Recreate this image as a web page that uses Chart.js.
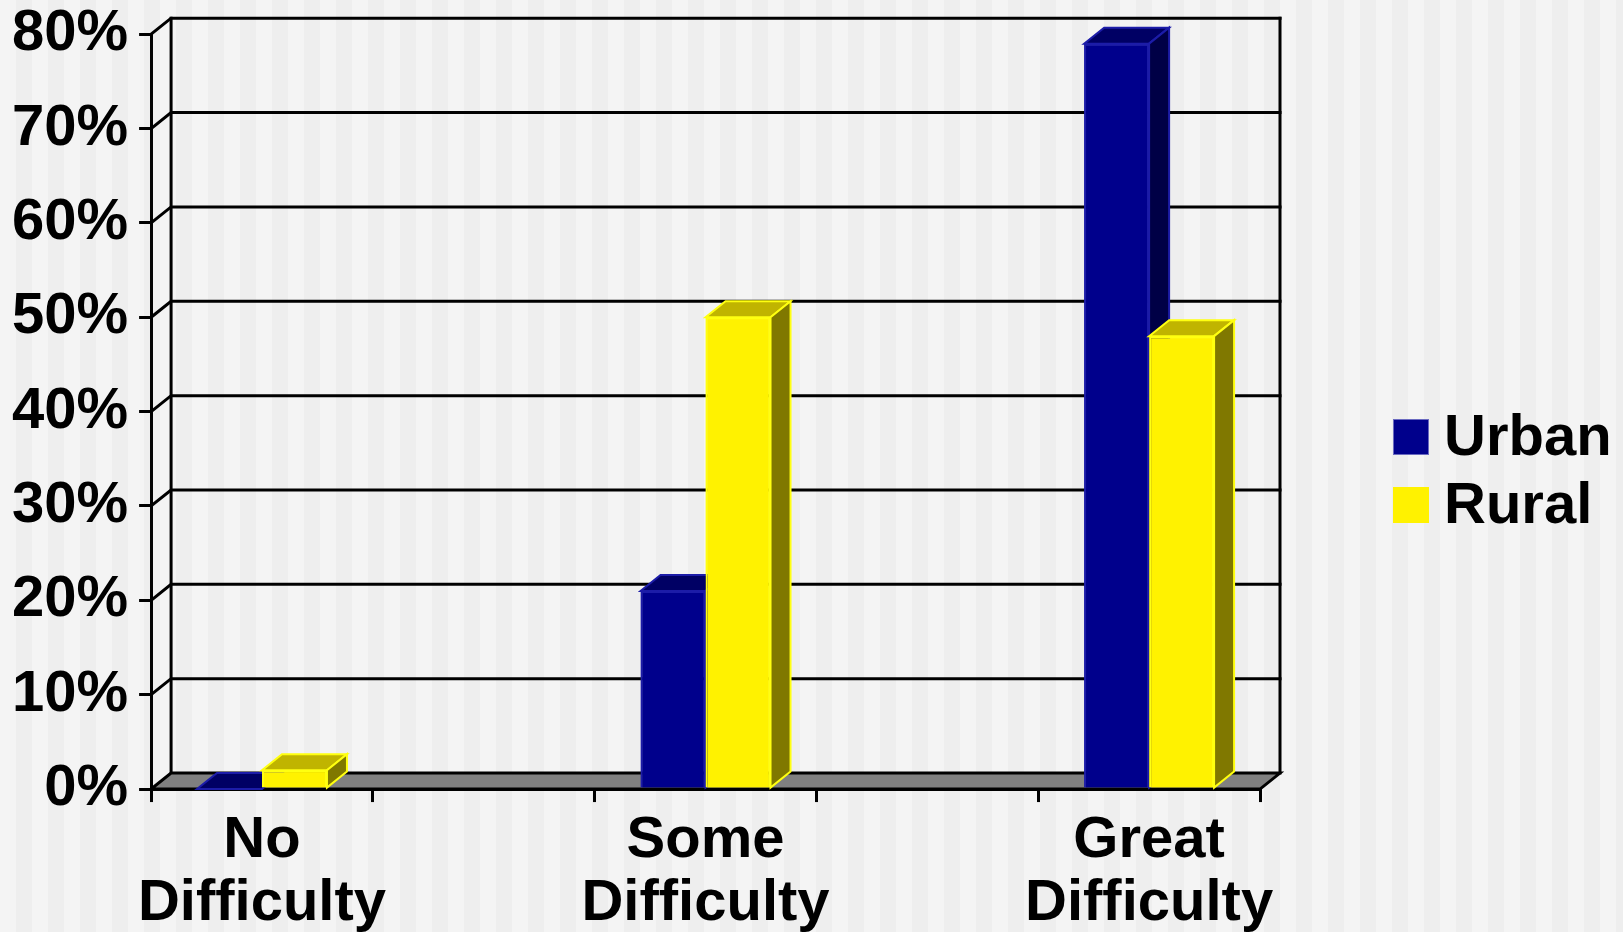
<!DOCTYPE html>
<html>
<head>
<meta charset="utf-8">
<script src="https://cdn.jsdelivr.net/npm/chart.js@4/dist/chart.umd.min.js"></script>
<style>
  html, body {
    margin: 0;
    padding: 0;
    width: 1623px;
    height: 932px;
    overflow: hidden;
    background: repeating-linear-gradient(to right, #f4f4f4 0px, #f4f4f4 16px, #eeeeee 16px, #eeeeee 32px);
  }
  #wrap { position: absolute; left: 0; top: 0; width: 1623px; height: 960px; }
</style>
</head>
<body>
<div id="wrap"><canvas id="chart" width="1623" height="960"></canvas></div>
<script>
// Categories (blank slots keep the wide spacing between the three groups)
const categories = [["No", "Difficulty"], "", ["Some", "Difficulty"], "", ["Great", "Difficulty"]];
const seriesNames = ["Urban", "Rural"];
const urbanValues = [0, null, 21, null, 79];
const ruralValues = [2, null, 50, null, 48];
const yMin = 0;
const yMax = 80;
const yStep = 10;

const FONT = '"Liberation Sans", Arial, Helvetica, sans-serif';

// Face colours for the extruded bars: front, top, side, outline
const palettes = [
  { front: '#00008c', top: '#000064', side: '#000046', edge: '#1c1ca8' },
  { front: '#fff200', top: '#c0b400', side: '#807800', edge: '#ffff10' }
];

// Depth of the 3-D box (walls, floor and bars)
const DX = 20, DY = -16;

const box3d = {
  id: 'box3d',
  beforeDatasetsDraw(chart) {
    const { ctx, chartArea: a, scales: { y } } = chart;
    ctx.save();
    ctx.strokeStyle = '#000';
    ctx.lineWidth = 3;
    ctx.lineCap = 'square';
    // gridlines on the back wall plus the diagonals on the side wall
    y.ticks.forEach(t => {
      if (t.value === yMin) return;
      const yf = y.getPixelForValue(t.value);
      ctx.beginPath();
      ctx.moveTo(a.left, yf);
      ctx.lineTo(a.left + DX, yf + DY);
      ctx.lineTo(a.right + DX, yf + DY);
      ctx.stroke();
    });
    // back wall verticals
    const top = y.getPixelForValue(yMax);
    const bot = y.getPixelForValue(yMin);
    ctx.beginPath();
    ctx.moveTo(a.left + DX, top + DY);
    ctx.lineTo(a.left + DX, bot + DY);
    ctx.moveTo(a.right + DX, top + DY);
    ctx.lineTo(a.right + DX, bot + DY);
    ctx.stroke();
    // floor
    ctx.beginPath();
    ctx.moveTo(a.left, bot);
    ctx.lineTo(a.right, bot);
    ctx.lineTo(a.right + DX, bot + DY);
    ctx.lineTo(a.left + DX, bot + DY);
    ctx.closePath();
    ctx.fillStyle = '#808080';
    ctx.fill();
    ctx.stroke();
    ctx.restore();
  },
  afterDatasetsDraw(chart) {
    // redraw every bar left to right: front face, then top and side faces
    const { ctx, chartArea } = chart;
    ctx.save();
    chart.data.datasets.forEach((ds, di) => {
      const meta = chart.getDatasetMeta(di);
      const p = palettes[di];
      meta.data.forEach((bar, i) => {
        if (ds.data[i] === null || ds.data[i] === undefined) return;
        bar.draw(ctx, chartArea);
        const { x, y, base, width } = bar.getProps(['x', 'y', 'base', 'width'], true);
        const l = x - width / 2, r = x + width / 2;
        ctx.lineWidth = 2;
        ctx.lineJoin = 'miter';
        ctx.strokeStyle = p.edge;
        // top face
        ctx.beginPath();
        ctx.moveTo(l, y);
        ctx.lineTo(r, y);
        ctx.lineTo(r + DX, y + DY);
        ctx.lineTo(l + DX, y + DY);
        ctx.closePath();
        ctx.fillStyle = p.top;
        ctx.fill();
        ctx.stroke();
        // side face
        if (base - y > 0.5) {
          ctx.beginPath();
          ctx.moveTo(r, y);
          ctx.lineTo(r + DX, y + DY);
          ctx.lineTo(r + DX, base + DY);
          ctx.lineTo(r, base);
          ctx.closePath();
          ctx.fillStyle = p.side;
          ctx.fill();
          ctx.stroke();
        }
      });
    });
    ctx.restore();
  },
  afterDraw(chart) {
    // legend on the right
    const { ctx, chartArea: a } = chart;
    ctx.save();
    ctx.font = 'bold 58px ' + FONT;
    ctx.textAlign = 'left';
    ctx.textBaseline = 'alphabetic';
    const lx = a.right + 133;
    const ly = 419;
    chart.data.datasets.forEach((ds, i) => {
      const p = palettes[i];
      const by = ly + i * 68;
      ctx.fillStyle = p.front;
      ctx.fillRect(lx, by, 36, 36);
      ctx.lineWidth = 1;
      ctx.strokeStyle = i === 0 ? '#6a6ac0' : p.front;
      ctx.strokeRect(lx + 0.5, by + 0.5, 35, 35);
      ctx.fillStyle = '#000';
      ctx.fillText(ds.label, lx + 51, by + 36);
    });
    ctx.restore();
  }
};

new Chart(document.getElementById('chart'), {
  type: 'bar',
  data: {
    labels: categories,
    datasets: [
      { label: seriesNames[0], data: urbanValues,
        backgroundColor: palettes[0].front, borderColor: palettes[0].edge, borderWidth: 2,
        categoryPercentage: 0.586, barPercentage: 1 },
      { label: seriesNames[1], data: ruralValues,
        backgroundColor: palettes[1].front, borderColor: palettes[1].edge, borderWidth: 2,
        categoryPercentage: 0.586, barPercentage: 1 }
    ]
  },
  options: {
    responsive: false,
    animation: false,
    devicePixelRatio: 1,
    layout: { padding: { left: 1, top: 34, right: 363, bottom: 17.5 } },
    plugins: { legend: { display: false }, tooltip: { enabled: false } },
    scales: {
      x: {
        grid: { drawOnChartArea: false, tickLength: 13, color: '#000', lineWidth: 3, offset: true },
        border: { display: true, color: '#000', width: 3 },
        ticks: {
          color: '#000', padding: 7, maxRotation: 0, autoSkip: false,
          font: { family: FONT, size: 58, weight: 'bold', lineHeight: 1.09 }
        }
      },
      y: {
        min: yMin, max: yMax,
        grid: { drawOnChartArea: false, tickLength: 12, color: '#000', lineWidth: 3 },
        border: { display: true, color: '#000', width: 3 },
        ticks: {
          stepSize: yStep, color: '#000', padding: 11,
          font: { family: FONT, size: 58, weight: 'bold', lineHeight: 0.8 },
          callback: v => v + '%'
        }
      }
    }
  },
  plugins: [box3d]
});
</script>
</body>
</html>
